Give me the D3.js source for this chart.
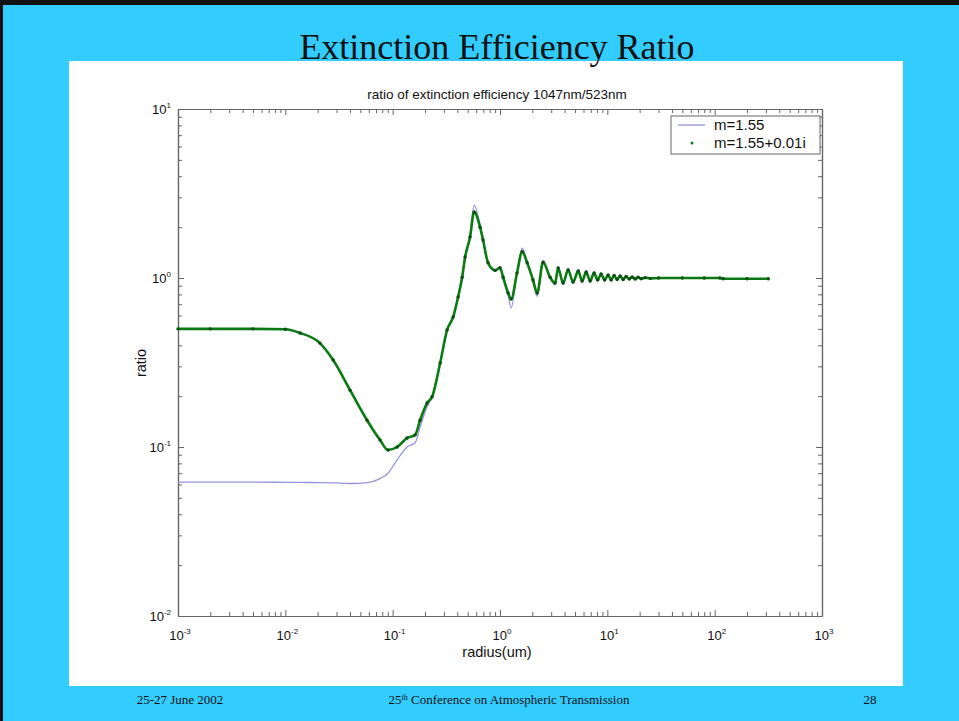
<!DOCTYPE html>
<html>
<head>
<meta charset="utf-8">
<script src="https://cdn.jsdelivr.net/npm/d3@7"></script>
<style>
  body { margin: 0; padding: 0; background: #000; }
  svg { display: block; }
  text { font-family: "Liberation Sans", Arial, sans-serif; fill: #111; }
</style>
</head>
<body>
<div id="chart_div"></div>
<script>
// radius values (um) shared by both series
var radius = [0.001, 0.002, 0.005, 0.01, 0.0137, 0.021, 0.0279, 0.0401, 0.0577, 0.0763,
  0.0906, 0.110, 0.136, 0.162, 0.180, 0.209, 0.233, 0.277, 0.321, 0.366,
  0.407, 0.444, 0.473, 0.526, 0.574, 0.652, 0.695, 0.774, 0.900, 1.0,
  1.07, 1.19, 1.27, 1.44, 1.61, 1.79, 2.03, 2.22, 2.52, 2.93,
  3.26, 3.48, 3.87, 4.31, 4.80, 5.35, 5.82, 6.35, 6.91, 7.53,
  8.12, 8.75, 9.44, 10.17, 10.85, 11.57, 12.34, 13.16, 14.04, 14.97,
  15.97, 17.03, 18.16, 19.37, 20.65, 22.5, 25.1, 30, 50, 80,
  112, 120, 200, 316];

// m=1.55 (real index)
var ratioReal = [0.062, 0.062, 0.062, 0.0618, 0.0617, 0.0616, 0.0614, 0.0608, 0.0615, 0.065,
  0.070, 0.084, 0.100, 0.106, 0.131, 0.173, 0.198, 0.314, 0.492, 0.588,
  0.772, 1.01, 1.33, 1.78, 2.70, 2.05, 1.70, 1.22, 1.10, 1.16,
  0.99, 0.79, 0.664, 1.08, 1.50, 1.25, 0.96, 0.78, 1.27, 1.0,
  0.91, 1.17, 0.91, 1.14, 0.925, 1.12, 0.94, 1.10, 0.945, 1.085,
  0.962, 1.068, 0.964, 1.052, 0.966, 1.043, 0.975, 1.034, 0.976, 1.026,
  0.983, 1.017, 0.983, 1.012, 0.988, 1.006, 0.994, 1.0, 1.0, 1.0,
  1.0, 0.99, 0.99, 0.99];

// m=1.55+0.01i (absorbing)
var ratioAbs = [0.50, 0.50, 0.50, 0.497, 0.473, 0.412, 0.327, 0.217, 0.144, 0.110,
  0.096, 0.100, 0.113, 0.118, 0.144, 0.182, 0.198, 0.314, 0.492, 0.588,
  0.772, 1.01, 1.33, 1.75, 2.46, 2.0, 1.68, 1.23, 1.11, 1.15,
  1.01, 0.815, 0.751, 1.07, 1.43, 1.23, 0.973, 0.815, 1.24, 1.01,
  0.934, 1.146, 0.934, 1.115, 0.947, 1.100, 0.960, 1.085, 0.960, 1.070,
  0.973, 1.056, 0.973, 1.042, 0.973, 1.035, 0.980, 1.028, 0.980, 1.021,
  0.986, 1.014, 0.986, 1.010, 0.990, 1.005, 0.995, 1.0, 1.0, 1.0,
  1.0, 0.99, 0.99, 0.99];

var xDecades = [-3, -2, -1, 0, 1, 2, 3];
var yDecades = [-2, -1, 0, 1];
var legendLabels = ['m=1.55', 'm=1.55+0.01i'];

var slide_width = 959,
  slide_height = 721;

var svg = d3.select('#chart_div')
  .append('svg')
  .attr('width', slide_width)
  .attr('height', slide_height);

// slide background with the dark frame on top/left
svg.append('rect')
  .attr('x', 0).attr('y', 0)
  .attr('width', slide_width).attr('height', slide_height)
  .attr('fill', '#111');
svg.append('rect')
  .attr('x', 3).attr('y', 5)
  .attr('width', slide_width - 3).attr('height', slide_height - 5)
  .attr('fill', '#33ccff');

// white figure panel
svg.append('rect')
  .attr('x', 69).attr('y', 61)
  .attr('width', 834).attr('height', 625)
  .attr('fill', '#fff');

// slide title
svg.append('text')
  .attr('x', 497).attr('y', 59)
  .attr('text-anchor', 'middle')
  .attr('style', 'font-size: 36px; font-family: Liberation Serif, serif')
  .text('Extinction Efficiency Ratio');

// scales
var x = d3.scaleLog().domain([1e-3, 1e3]).range([178, 822]);
var y = d3.scaleLog().domain([1e-2, 1e1]).range([616, 109]);

var axisColor = '#666';

var xMajor = xDecades.map(function (d) { return Math.pow(10, d); });
var yMajor = yDecades.map(function (d) { return Math.pow(10, d); });
var xMinor = x.ticks().filter(function (d) { return xMajor.every(function (m) { return Math.abs(m - d) / m > 1e-6; }); });
var yMinor = y.ticks().filter(function (d) { return yMajor.every(function (m) { return Math.abs(m - d) / m > 1e-6; }); });

// draw a box axis, ticks pointing inward
function drawAxis(gen, tx, ty, vals, size) {
  var g = svg.append('g')
    .attr('transform', 'translate(' + tx + ',' + ty + ')')
    .call(gen.tickValues(vals).tickSize(-size).tickSizeOuter(0).tickFormat(''));
  g.selectAll('path').attr('stroke', axisColor).attr('stroke-width', 1.2);
  g.selectAll('line').attr('stroke', axisColor);
  return g;
}

drawAxis(d3.axisBottom(x), 0, 616, xMajor, 6);
drawAxis(d3.axisBottom(x), 0, 616, xMinor, 4);
drawAxis(d3.axisTop(x), 0, 109, xMajor, 6);
drawAxis(d3.axisTop(x), 0, 109, xMinor, 4);
drawAxis(d3.axisLeft(y), 178, 0, yMajor, 6);
drawAxis(d3.axisLeft(y), 178, 0, yMinor, 4);
drawAxis(d3.axisRight(y), 822, 0, yMajor, 6);
drawAxis(d3.axisRight(y), 822, 0, yMinor, 4);

// tick labels with superscripts
svg.selectAll('.xlabel')
  .data(xDecades)
  .enter().append('text')
  .attr('class', 'xlabel')
  .attr('x', function (d) { return x(Math.pow(10, d)) + 2; })
  .attr('y', 640)
  .attr('text-anchor', 'middle')
  .attr('style', 'font-size: 13px')
  .each(function (d) {
    var t = d3.select(this);
    t.append('tspan').text('10');
    t.append('tspan').attr('dy', -6).attr('style', 'font-size: 8px').text(d);
  });

svg.selectAll('.ylabel')
  .data(yDecades)
  .enter().append('text')
  .attr('class', 'ylabel')
  .attr('x', 171)
  .attr('y', function (d) { return y(Math.pow(10, d)) + 5; })
  .attr('text-anchor', 'end')
  .attr('style', 'font-size: 13px')
  .each(function (d) {
    var t = d3.select(this);
    t.append('tspan').text('10');
    t.append('tspan').attr('dy', -6).attr('style', 'font-size: 8px').text(d);
  });

// axis titles
svg.append('text')
  .attr('x', 497).attr('y', 657)
  .attr('text-anchor', 'middle')
  .attr('style', 'font-size: 14.5px')
  .text('radius(um)');

svg.append('text')
  .attr('transform', 'translate(146,363) rotate(-90)')
  .attr('text-anchor', 'middle')
  .attr('style', 'font-size: 14.5px')
  .text('ratio');

svg.append('text')
  .attr('x', 497).attr('y', 99)
  .attr('text-anchor', 'middle')
  .attr('style', 'font-size: 13.5px')
  .text('ratio of extinction efficiency 1047nm/523nm');

// curves
var realData = radius.map(function (r, i) { return {r: r, v: ratioReal[i]}; });
var absData = radius.map(function (r, i) { return {r: r, v: ratioAbs[i]}; });

var line = d3.line()
  .curve(d3.curveMonotoneX)
  .x(function (d) { return x(d.r); })
  .y(function (d) { return y(d.v); });

var blue = '#9494dc',
  green = '#0b7a12';

svg.append('path')
  .datum(realData)
  .attr('d', line)
  .attr('fill', 'none')
  .attr('stroke', blue)
  .attr('stroke-width', 1.3);

svg.append('path')
  .datum(absData)
  .attr('d', line)
  .attr('fill', 'none')
  .attr('stroke', green)
  .attr('stroke-width', 2.6);

svg.selectAll('.dot')
  .data(absData)
  .enter().append('circle')
  .attr('class', 'dot')
  .attr('cx', function (d) { return x(d.r); })
  .attr('cy', function (d) { return y(d.v); })
  .attr('r', 1.7)
  .attr('fill', '#0a4f10');

// legend
var legend = svg.append('g').classed('legend', true);
legend.append('rect')
  .attr('x', 671).attr('y', 116)
  .attr('width', 149).attr('height', 38)
  .attr('fill', '#fff')
  .attr('stroke', axisColor);
legend.append('line')
  .attr('x1', 678).attr('x2', 705)
  .attr('y1', 125).attr('y2', 125)
  .attr('stroke', blue)
  .attr('stroke-width', 1.3);
legend.append('circle')
  .attr('cx', 692).attr('cy', 143)
  .attr('r', 1.5)
  .attr('fill', green);
legend.selectAll('.legtext')
  .data(legendLabels)
  .enter().append('text')
  .attr('class', 'legtext')
  .attr('x', 714)
  .attr('y', function (d, i) { return 130 + i * 18; })
  .attr('style', 'font-size: 15px')
  .text(function (d) { return d; });

// footer
var footer = svg.append('g');
footer.append('text')
  .attr('x', 180).attr('y', 704)
  .attr('text-anchor', 'middle')
  .attr('style', 'font-size: 13px; font-family: Liberation Serif, serif')
  .text('25-27 June 2002');
var conf = footer.append('text')
  .attr('x', 509).attr('y', 704)
  .attr('text-anchor', 'middle')
  .attr('style', 'font-size: 13px; font-family: Liberation Serif, serif');
conf.append('tspan').text('25');
conf.append('tspan').attr('dy', -4).attr('style', 'font-size: 8px').text('th');
conf.append('tspan').attr('dy', 4).text(' Conference on Atmospheric Transmission');
footer.append('text')
  .attr('x', 870).attr('y', 704)
  .attr('text-anchor', 'middle')
  .attr('style', 'font-size: 13px; font-family: Liberation Serif, serif')
  .text('28');
</script>
</body>
</html>
